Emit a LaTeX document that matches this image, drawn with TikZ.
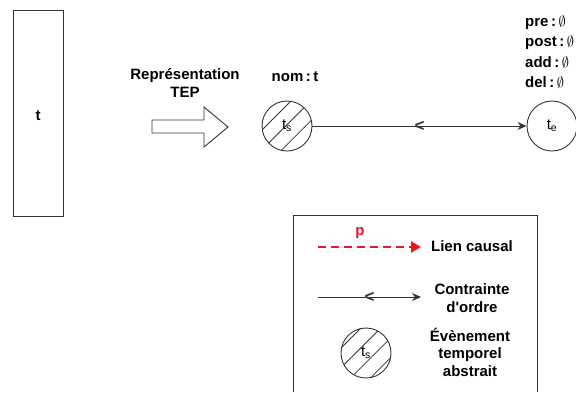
\documentclass[tikz,border=0pt]{standalone}
\usepackage{fontspec}
\setmainfont{Liberation Sans}
\usetikzlibrary{
  arrows.meta,
  patterns.meta
}
\definecolor{linegray}{RGB}{51,51,51}
\definecolor{causalred}{RGB}{240,20,35}

\begin{document}
\begin{tikzpicture}[
  x=1pt, y=-1pt,
  every node/.style={font=\fontsize{15}{17.5}\selectfont\bfseries, text=black},
  taskbox/.style={
    draw=linegray,
    line width=0.9pt,
    minimum width=50pt,
    minimum height=206pt
  },
  eventnode/.style={
    circle,
    draw=linegray,
    line width=0.9pt,
    minimum size=50pt,
    inner sep=0pt,
    font=\fontsize{15}{17}\selectfont
  },
  abstractevent/.style={
    eventnode,
    pattern={Lines[angle=45, distance=14pt, line width=0.8pt]},
    pattern color=linegray
  },
  ordre/.style={
    -{Stealth[length=9pt, width=8pt]},
    draw=linegray,
    line width=0.9pt
  },
  causal/.style={
    -{Triangle[length=10pt, width=11pt]},
    draw=causalred,
    line width=2.4pt,
    dash pattern=on 8pt off 5pt
  },
  ordmark/.style={
    font=\fontsize{17}{17}\selectfont\bfseries,
    text=linegray,
    inner sep=0pt
  },
  fieldlbl/.style={anchor=west, inner sep=0pt},
  bigarrow/.style={draw=linegray, line width=0.9pt, fill=white},
  legendbox/.style={draw=linegray, line width=0.9pt}
]
  \useasboundingbox (0,0) rectangle (576,392);

  % Task and its TEP representation
  \node[taskbox] (task) at (38,113.5) {};
  \node (taskLbl) at (38,116) {t};
  \node[align=center] (repLbl) at (185,83) {Représentation\\TEP};
  \draw[bigarrow] (152,120) -- (204,120) -- (204,107) -- (228,127)
    -- (204,147) -- (204,133) -- (152,133) -- cycle;

  % Start and end events
  \node[abstractevent] (ts) at (287,126) {t\textsubscript{s}};
  \node[eventnode] (te) at (552,126) {t\textsubscript{e}};
  \node (nomLbl) at (295,77) {nom\,:\,t};
  \node[fieldlbl] (preLbl) at (525,23) {pre\,:\,$\emptyset$};
  \node[fieldlbl] (postLbl) at (525,43) {post\,:\,$\emptyset$};
  \node[fieldlbl] (addLbl) at (525,62) {add\,:\,$\emptyset$};
  \node[fieldlbl] (delLbl) at (525,82) {del\,:\,$\emptyset$};

  % Order constraint
  \draw[ordre] (ts) -- (te) node[midway, ordmark] {<};

  % Legend
  \draw[legendbox] (293,392) -- (293,215) -- (537,215) -- (537,392);
  \coordinate (causStart) at (318,247);
  \coordinate (causEnd) at (421,247);
  \draw[causal] (causStart) -- (causEnd);
  \node[text=causalred] (pLbl) at (360,233) {p};
  \node (causLbl) at (472,246) {Lien causal};

  \coordinate (ordStart) at (318,297);
  \coordinate (ordEnd) at (421,297);
  \draw[ordre] (ordStart) -- (ordEnd) node[midway, ordmark] {<};
  \node[align=center] (ordLbl) at (472,298) {Contrainte\\d\textquotesingle ordre};

  \node[abstractevent] (legTs) at (366,353) {t\textsubscript{s}};
  \node[align=center] (evtLbl) at (470,352) {Évènement\\temporel\\abstrait};
\end{tikzpicture}
\end{document}
